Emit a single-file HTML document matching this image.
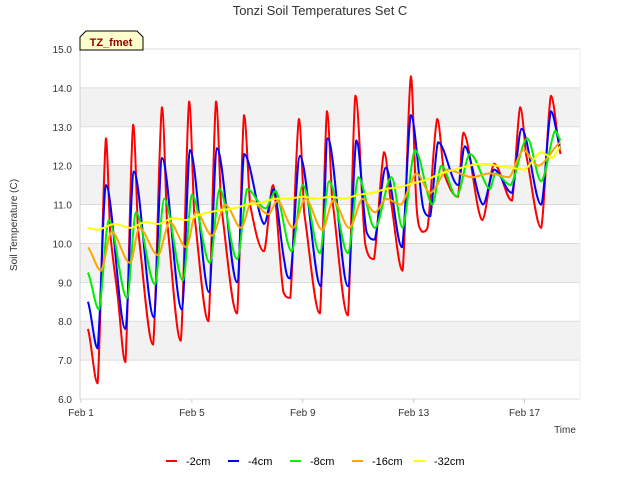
<!DOCTYPE html>
<html><head><meta charset="utf-8"><style>
body{margin:0;background:#fff;font-family:"Liberation Sans","DejaVu Sans",sans-serif;}
svg{display:block}
</style></head><body>
<svg id="chart" width="640" height="480" viewBox="0 0 640 480" xmlns="http://www.w3.org/2000/svg">
<rect width="640" height="480" fill="#fff"/>
<text x="320" y="15" text-anchor="middle" font-size="13" fill="#333">Tonzi Soil Temperatures Set C</text>
<g id="plot"></g>
<g id="axes"></g>
<g id="series"></g>
<g>
<polygon points="80,50 80,37 86,31 137,31 143,37 143,50" fill="#ffffcc" stroke="#000" stroke-width="1"/>
<text x="111" y="46" text-anchor="middle" font-size="11" font-weight="bold" fill="#8b0000">TZ_fmet</text>
</g>
<text x="17" y="225" transform="rotate(-90 17 225)" text-anchor="middle" font-size="10" fill="#333">Soil Temperature (C)</text>
<text x="565" y="433" text-anchor="middle" font-size="10" fill="#333">Time</text>
<g id="legend"></g>
</svg>
<script>
const yTicks=[6,7,8,9,10,11,12,13,14,15];
const xTickDays=[1,5,9,13,17];
const xTickLabels=["Feb 1","Feb 5","Feb 9","Feb 13","Feb 17"];
const seriesNames=["-2cm","-4cm","-8cm","-16cm","-32cm"];
const seriesColors=["#ff0000","#0000ff","#00ee00","#ffa500","#ffff00"];
const d2=[1.25,1.6,1.9,2.05,2.33,2.6,2.88,3.05,3.6,3.92,4.1,4.6,4.9,5.08,5.6,5.87,6.05,6.63,6.88,7.1,7.6,7.93,8.3,8.55,8.86,9.05,9.62,9.87,10.05,10.63,10.9,11.25,11.57,11.93,12.15,12.6,12.9,13.1,13.3,13.5,13.85,14.1,14.6,14.8,15.47,15.9,16.55,16.84,17.05,17.6,17.95,18.3];
const v2=[7.8,6.4,12.7,10.3,8.6,6.95,13.05,10.4,7.4,13.5,10.6,7.5,13.65,10.8,8.0,13.65,11.0,8.2,13.3,11.0,9.8,11.5,8.75,8.6,13.2,10.8,8.2,13.4,11.2,8.15,13.8,10.0,9.6,12.35,11.2,9.3,14.3,11.0,10.3,10.4,13.2,11.8,11.2,12.85,10.6,12.05,11.1,13.5,12.3,10.4,13.8,12.3];
const d4=[1.25,1.6,1.9,2.6,2.9,3.63,3.92,4.64,4.93,5.62,5.9,6.63,6.88,7.6,7.96,8.35,8.55,8.9,9.65,9.9,10.63,10.93,11.3,11.6,12.0,12.58,12.9,13.35,13.6,13.88,14.6,14.85,15.5,15.9,16.55,16.9,17.6,17.95,18.3];
const v4=[8.5,7.3,11.5,7.8,11.85,8.1,12.2,8.3,12.4,8.75,12.45,9.0,12.3,10.5,11.4,9.5,9.1,12.25,8.9,12.7,8.9,12.65,10.3,10.1,11.95,9.9,13.3,10.9,10.7,12.6,11.5,12.5,11.0,11.9,11.3,12.95,11.0,13.4,12.45];
const d8=[1.25,1.65,2.0,2.66,2.98,3.67,4.0,4.68,5.0,5.65,6.0,6.63,6.99,7.65,8.03,8.6,9.0,9.62,9.95,10.63,11.0,11.6,12.2,12.6,13.05,13.67,14.0,14.55,15.03,15.75,15.95,16.5,17.1,17.6,18.1,18.3];
const v8=[9.25,8.3,10.6,8.6,10.8,8.95,11.15,9.05,11.25,9.5,11.4,9.6,11.4,10.9,11.35,9.8,11.5,9.75,11.6,9.75,11.7,10.4,11.7,10.4,12.4,11.0,12.0,11.2,12.3,11.4,11.8,11.5,12.7,11.6,12.9,12.65];
const d16=[1.25,1.72,2.1,2.77,3.1,3.78,4.2,4.8,5.15,5.73,6.2,6.78,7.15,7.75,8.1,8.65,9.1,9.7,10.1,10.68,11.15,11.6,12.0,12.55,13.1,13.6,14.2,15.1,15.75,16.45,16.95,17.5,18.3];
const v16=[9.9,9.3,10.3,9.5,10.4,9.7,10.55,9.9,10.8,10.2,11.0,10.4,11.1,10.75,11.1,10.4,11.15,10.35,11.1,10.4,11.15,10.8,11.15,11.0,11.8,11.3,11.9,11.7,11.8,11.7,12.4,12.0,12.6];
const d32=[1.25,1.6,2.2,2.8,3.3,3.8,4.3,4.8,5.3,6.0,6.5,7.0,7.5,8.0,8.5,9.0,9.5,10.0,10.5,11.0,11.5,12.0,12.5,13.0,13.5,14.0,14.5,15.0,15.5,16.0,16.5,17.0,17.6,18.0,18.3];
const v32=[10.4,10.35,10.5,10.4,10.55,10.5,10.65,10.6,10.75,10.85,10.9,11.0,11.05,11.15,11.15,11.2,11.15,11.2,11.15,11.25,11.3,11.4,11.45,11.55,11.65,11.8,11.9,12.0,12.05,12.0,11.95,11.9,12.35,12.2,12.5];
const X0=80,X1=580,Y0=49,Y1=399;
function xs(d){return 81+(d-1)*27.72;}
function ys(v){return Y1-(v-6)*(Y1-Y0)/9;}
const NS="http://www.w3.org/2000/svg";
function mk(tag,attrs,parent){const e=document.createElementNS(NS,tag);for(const k in attrs)e.setAttribute(k,attrs[k]);parent.appendChild(e);return e;}
function smoothPath(P){
  let s='M'+P[0][0].toFixed(1)+','+P[0][1].toFixed(1);
  const t=0.35;
  for(let i=0;i<P.length-1;i++){
    const p0=P[Math.max(0,i-1)],p1=P[i],p2=P[i+1],p3=P[Math.min(P.length-1,i+2)];
    let c1y=p1[1]+(p2[1]-p0[1])*t/2,c2y=p2[1]-(p3[1]-p1[1])*t/2;
    const lo=Math.min(p1[1],p2[1]),hi=Math.max(p1[1],p2[1]);
    c1y=Math.min(hi,Math.max(lo,c1y));c2y=Math.min(hi,Math.max(lo,c2y));
    const c1x=p1[0]+(p2[0]-p1[0])/3,c2x=p2[0]-(p2[0]-p1[0])/3;
    s+=' C'+c1x.toFixed(1)+','+c1y.toFixed(1)+' '+c2x.toFixed(1)+','+c2y.toFixed(1)+' '+p2[0].toFixed(1)+','+p2[1].toFixed(1);
  }
  return s;
}
const plot=document.getElementById('plot'),axes=document.getElementById('axes'),ser=document.getElementById('series'),leg=document.getElementById('legend');
mk('rect',{x:X0,y:Y0,width:X1-X0,height:Y1-Y0,fill:'#fff'},plot);
for(let i=0;i<yTicks.length-1;i++){
  const lo=yTicks[i],hi=yTicks[i+1];
  if(lo===7||lo===9||lo===11||lo===13){
    const b=mk('rect',{x:X0,y:ys(hi),width:X1-X0,height:ys(lo)-ys(hi),fill:'#f2f2f2'},plot);
    
    
  }
}
yTicks.forEach(t=>{
  const g=mk('line',{x1:X0,x2:X1,y1:ys(t),y2:ys(t),stroke:'#dcdcdc','stroke-width':1},axes);
  
  
  const tx=mk('text',{x:X0-8,y:ys(t)+4,'text-anchor':'end','font-size':10,fill:'#333'},axes);
  tx.textContent=t.toFixed(1);
  
  
});
mk('line',{x1:X0,x2:X0,y1:Y0,y2:Y1,stroke:'#ccc'},axes);
mk('line',{x1:X1,x2:X1,y1:Y0,y2:Y1,stroke:'#eee'},axes);
xTickDays.forEach((d,i)=>{
  mk('line',{x1:xs(d),x2:xs(d),y1:Y1,y2:Y1+4,stroke:'#ccc'},axes);
  const tx=mk('text',{x:xs(d),y:Y1+17,'text-anchor':'middle','font-size':10,fill:'#333'},axes);
  tx.textContent=xTickLabels[i];
  
  
});
const allD=[d2,d4,d8,d16,d32],allV=[v2,v4,v8,v16,v32];
for(let s=0;s<5;s++){
  const P=allD[s].map((d,i)=>[xs(d),ys(allV[s][i])]);
  const p=mk('path',{d:smoothPath(P),fill:'none',stroke:seriesColors[s],'stroke-width':2,'stroke-linejoin':'round'},ser);
  
  
}
const legX=[166,228,290,352,414];
for(let s=0;s<5;s++){
  const g=mk('g',{},leg);
  
  
  mk('line',{x1:legX[s],x2:legX[s]+11,y1:461,y2:461,stroke:seriesColors[s],'stroke-width':2},g);
  const t=mk('text',{x:legX[s]+20,y:465,'font-size':11,fill:'#000'},g);
  t.textContent=seriesNames[s];
}
</script>
</body></html>
